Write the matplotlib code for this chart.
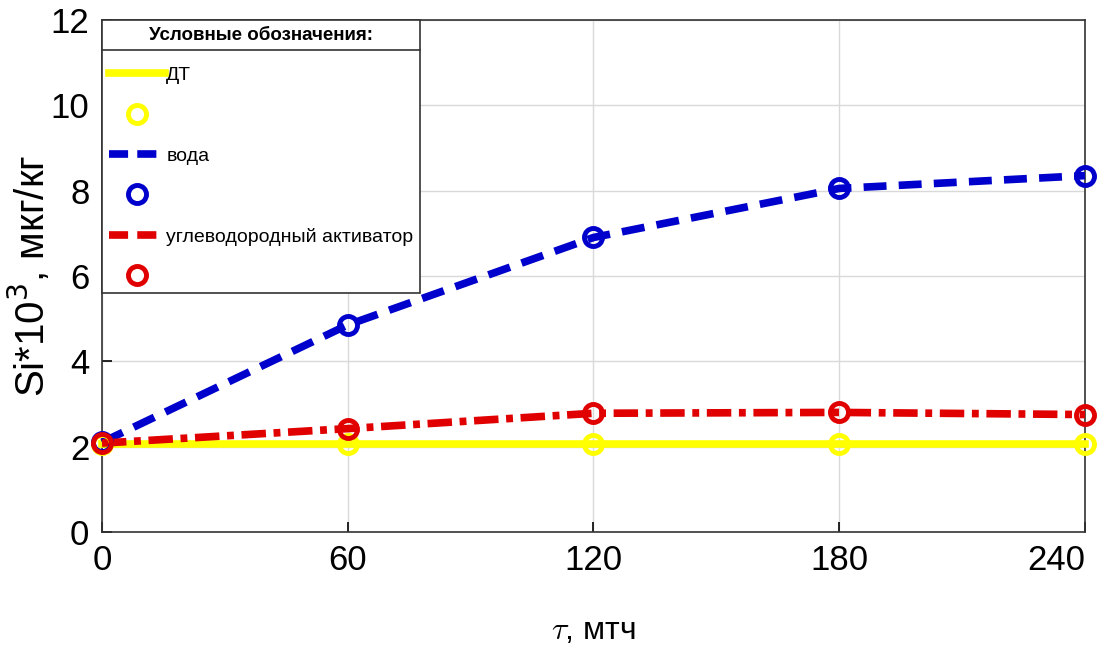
import matplotlib
matplotlib.use("Agg")
import matplotlib.pyplot as plt
from matplotlib.lines import Line2D

plt.rcParams['font.family'] = ['Liberation Sans', 'DejaVu Sans']

# время, мин
t = [0, 60, 120, 180, 240]
# Si*10^3, мкг/кг
si_dt = [2.05, 2.05, 2.05, 2.05, 2.05]
si_voda = [2.1, 4.85, 6.9, 8.05, 8.35]
si_activ = [2.08, 2.42, 2.78, 2.8, 2.75]

labels = ['ДТ', 'вода', 'углеводородный активатор']
colors = ['#ffff00', '#0000cc', '#e00000']
styles = ['-', (0, (3, 1.6)), (0, (3.2, 1.0, 0.9, 1.0))]
series = [si_dt, si_voda, si_activ]

fig = plt.figure(figsize=(11.12, 6.64), dpi=100)
ax = fig.add_axes([0.0917, 0.199, 0.884, 0.771])

for y, c, ls in zip(series, colors, styles):
    ax.plot(t, y, color=c, linestyle=ls, linewidth=5.5, zorder=3, clip_on=False)
    ax.plot(t, y, linestyle='none', marker='o', markersize=13, clip_on=False,
            markerfacecolor='none', markeredgecolor=c, markeredgewidth=3.5, zorder=4)

ax.set_xlim(0, 240)
ax.set_ylim(0, 12)
ax.set_xticks(t)
ax.set_yticks(range(0, 13, 2))
ax.grid(True, color='#d9d9d9', linewidth=1)
ax.set_axisbelow(True)
ax.tick_params(direction='in', labelsize=25, length=7, width=1.2, pad=9)
for s in ax.spines.values():
    s.set_color('#333333')
    s.set_linewidth(1.2)
for lbl in ax.get_xticklabels():
    if lbl.get_text() == '240':
        lbl.set_horizontalalignment('right')
        lbl.set_x(1.0)

ax.set_xlabel(r'$\tau$, мтч', fontsize=23, labelpad=28, math_fontfamily='cm')
ax.set_ylabel(r'Si*10$^3$, мкг/кг', fontsize=29, math_fontfamily='dejavusans')
ax.yaxis.set_label_coords(-0.05, 0.5)

handles = []
hlabels = []
for lab, c, ls in zip(labels, colors, styles):
    leg_ls = '-' if ls == '-' else (0, (2.5, 1.2))
    handles.append(Line2D([], [], color=c, linestyle=leg_ls, linewidth=5.5))
    hlabels.append(lab)
    handles.append(Line2D([], [], linestyle='none', marker='o', markersize=13,
                          markerfacecolor='none', markeredgecolor=c, markeredgewidth=3.5))
    hlabels.append('')

leg = ax.legend(handles, hlabels, loc='upper left', bbox_to_anchor=(0, 1),
                title='Условные обозначения:', fontsize=14, handlelength=2.9,
                handletextpad=0.05, borderaxespad=0, borderpad=0.35,
                labelspacing=1.17, fancybox=False, framealpha=1,
                edgecolor='#333333', title_fontproperties={'size': 13.5, 'weight': 'bold'})
leg.get_frame().set_linewidth(1.2)
leg.set_zorder(5)

fig.canvas.draw()
tb = leg.get_title().get_window_extent()
fb = leg.get_frame().get_window_extent()
inv = fig.transFigure.inverted()
ysep = (tb.y0 - 6)
p0 = inv.transform((fb.x0, ysep))
p1 = inv.transform((fb.x1, ysep))
fig.add_artist(Line2D([p0[0], p1[0]], [p0[1], p1[1]], color='#333333',
                      linewidth=1.2, zorder=10))

fig.savefig('out.png', dpi=100)
